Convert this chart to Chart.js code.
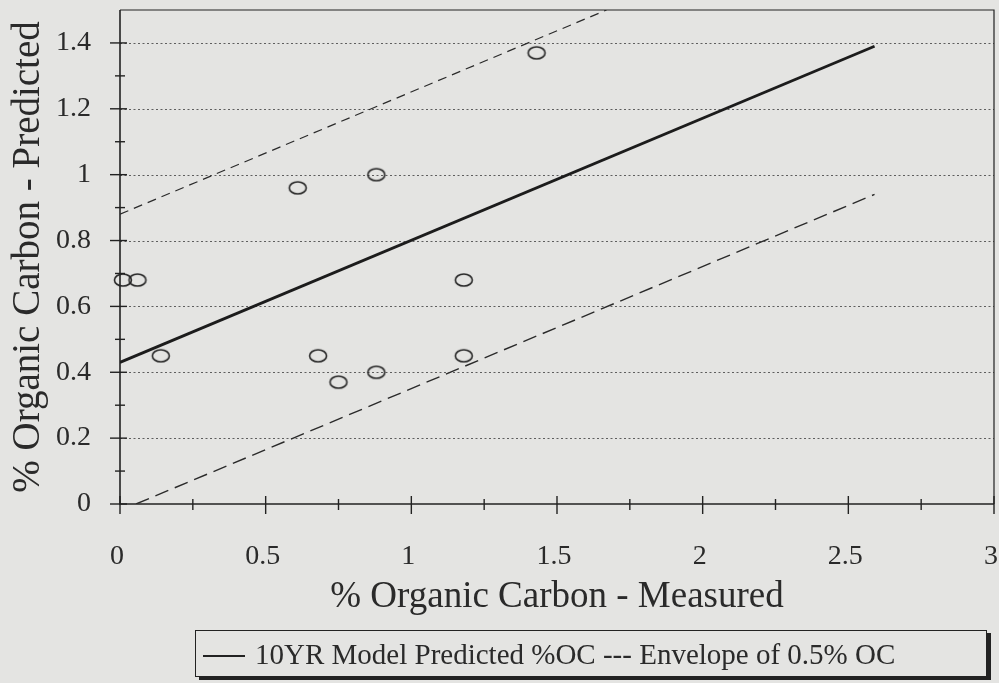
<!DOCTYPE html>
<html><head><meta charset="utf-8">
<script src="https://cdn.jsdelivr.net/npm/chart.js@4.4.1/dist/chart.umd.min.js"></script>
<style>
html,body{margin:0;padding:0;background:#e4e4e2;}
#wrap{position:relative;width:999px;height:683px;overflow:hidden;}
canvas{position:absolute;left:0;top:0;}
#legend{position:absolute;left:195px;top:630px;width:792px;height:47px;border:1px solid #222;box-shadow:4px 3px 0 #222;font-family:"Liberation Serif","Times New Roman",serif;font-size:29px;color:#2a2a2a;line-height:47px;white-space:nowrap;box-sizing:border-box;padding-left:7px;}
#legend .ln{display:inline-block;width:42px;height:0;border-top:2.5px solid #222;vertical-align:middle;margin-right:10px;position:relative;top:-1px;}
</style></head>
<body>
<div id="wrap">
<canvas id="c" width="999" height="683"></canvas>
<div id="legend"><span class="ln"></span>10YR Model Predicted %OC --- Envelope of 0.5% OC</div>
</div>
<script>
// ---- data ----
const measured  = [0.01, 0.06, 0.14, 0.68, 0.75, 0.88, 1.18, 1.18, 0.61, 0.88, 1.43];
const predicted = [0.68, 0.68, 0.45, 0.45, 0.37, 0.40, 0.68, 0.45, 0.96, 1.00, 1.37];
const modelX = [0, 2.59];
const modelY = [0.43, 1.39];
const upperX = [0, 1.67];
const upperY = [0.88, 1.5];
const lowerX = [0.055, 2.59];
const lowerY = [0, 0.94];
const xTicks  = [0, 0.5, 1, 1.5, 2, 2.5, 3];
const xLabels = ['0', '0.5', '1', '1.5', '2', '2.5', '3'];
const yTicks  = [0, 0.2, 0.4, 0.6, 0.8, 1, 1.2, 1.4];
const yLabels = ['0', '0.2', '0.4', '0.6', '0.8', '1', '1.2', '1.4'];
const xMinor = [0.25, 0.75, 1.25, 1.75, 2.25, 2.75];
const yMinor = [0.1, 0.3, 0.5, 0.7, 0.9, 1.1, 1.3];

const zip = (xs, ys) => xs.map((v, i) => ({x: v, y: ys[i]}));
const FONT = '"Liberation Serif","Times New Roman",serif';
const INK = '#2a2a2a';

// ellipse marker
const ell = document.createElement('canvas');
ell.width = 22; ell.height = 16;
(function(){
  const g = ell.getContext('2d');
  g.strokeStyle = '#262626'; g.lineWidth = 1.6;
  g.beginPath(); g.ellipse(11, 8, 8.5, 6, 0, 0, Math.PI * 2); g.stroke();
})();

const noPad = s => { s.paddingLeft = 0; s.paddingRight = 0; s.paddingTop = 0; s.paddingBottom = 0; };

const frame = {
  id: 'frame',
  beforeDraw(chart) {
    const c = chart.ctx; c.save();
    c.fillStyle = '#e4e4e2'; c.fillRect(0, 0, chart.width, chart.height);
    c.restore();
  },
  beforeDatasetsDraw(chart) {
    const {ctx, chartArea: a, scales: {x, y}} = chart;
    ctx.save();
    ctx.strokeStyle = '#5e5e5e'; ctx.lineWidth = 1; ctx.setLineDash([2, 2.5]);
    yTicks.forEach(v => {
      if (v === 0) return;
      const py = Math.round(y.getPixelForValue(v)) + 0.5;
      ctx.beginPath(); ctx.moveTo(a.left, py); ctx.lineTo(a.right, py); ctx.stroke();
    });
    ctx.setLineDash([]);
    ctx.strokeStyle = '#222';
    ctx.lineWidth = 1.2;
    ctx.beginPath(); ctx.moveTo(a.left, a.top); ctx.lineTo(a.right, a.top); ctx.lineTo(a.right, a.bottom); ctx.stroke();
    ctx.lineWidth = 1.6;
    ctx.beginPath(); ctx.moveTo(a.left, a.top); ctx.lineTo(a.left, a.bottom); ctx.lineTo(a.right, a.bottom); ctx.stroke();
    ctx.lineWidth = 1.4;
    yTicks.forEach(v => { const py = y.getPixelForValue(v); ctx.beginPath(); ctx.moveTo(a.left - 10, py); ctx.lineTo(a.left + 7, py); ctx.stroke(); });
    yMinor.forEach(v => { const py = y.getPixelForValue(v); ctx.beginPath(); ctx.moveTo(a.left - 5, py); ctx.lineTo(a.left + 5, py); ctx.stroke(); });
    xTicks.forEach(v => { const px = x.getPixelForValue(v); ctx.beginPath(); ctx.moveTo(px, a.bottom - 8); ctx.lineTo(px, a.bottom + 10); ctx.stroke(); });
    xMinor.forEach(v => { const px = x.getPixelForValue(v); ctx.beginPath(); ctx.moveTo(px, a.bottom - 5); ctx.lineTo(px, a.bottom + 6); ctx.stroke(); });
    ctx.restore();
  }
};

new Chart(document.getElementById('c'), {
  type: 'scatter',
  data: {
    datasets: [
      {label: '10YR Model Predicted %OC', data: zip(modelX, modelY), showLine: true,
       borderColor: '#1c1c1c', borderWidth: 2.8, pointRadius: 0, pointHoverRadius: 0, fill: false},
      {label: 'Envelope of 0.5% OC (upper)', data: zip(upperX, upperY), showLine: true,
       borderColor: '#2a2a2a', borderWidth: 1.2, borderDash: [9, 6], pointRadius: 0, pointHoverRadius: 0, fill: false},
      {label: 'Envelope of 0.5% OC (lower)', data: zip(lowerX, lowerY), showLine: true,
       borderColor: '#2a2a2a', borderWidth: 1.4, borderDash: [14, 7], pointRadius: 0, pointHoverRadius: 0, fill: false},
      {label: 'Measured', data: zip(measured, predicted), pointStyle: ell, pointRadius: 8, pointHoverRadius: 8,
       clip: false, showLine: false}
    ]
  },
  options: {
    responsive: false, animation: false, events: [],
    layout: {autoPadding: false, padding: {left: 0, top: 10, right: 5, bottom: 59}},
    plugins: {legend: {display: false}, tooltip: {enabled: false}},
    scales: {
      x: {
        type: 'linear', min: 0, max: 3,
        afterFit(s) { s.height = 120; noPad(s); },
        afterBuildTicks(s) { s.ticks = xTicks.map(v => ({value: v})); },
        grid: {display: false, drawTicks: false}, border: {display: false},
        ticks: {padding: 36, color: INK, font: {family: FONT, size: 28}, maxRotation: 0, autoSkip: false,
                labelOffset: -3, callback: (v, i) => xLabels[i]},
        title: {display: true, text: '% Organic Carbon - Measured', color: INK,
                font: {family: FONT, size: 37}, padding: {top: 0, bottom: 5}}
      },
      y: {
        type: 'linear', min: 0, max: 1.5,
        afterFit(s) { s.width = 120; noPad(s); },
        afterBuildTicks(s) { s.ticks = yTicks.map(v => ({value: v})); },
        grid: {display: false, drawTicks: false}, border: {display: false},
        ticks: {padding: 29, color: INK, font: {family: FONT, size: 28}, autoSkip: false,
                callback: (v, i) => yLabels[i]},
        title: {display: true, text: '% Organic Carbon - Predicted', color: INK,
                font: {family: FONT, size: 39}, padding: {top: 5, bottom: 0}}
      }
    }
  },
  plugins: [frame]
});
</script>
</body></html>
